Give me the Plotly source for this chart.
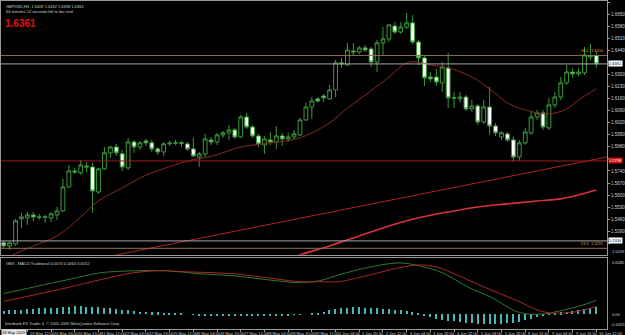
import plotly.graph_objects as go

# ---------------- data ----------------
bar_index = list(range(101))

opens = [
    1.5323, 1.5305, 1.5317, 1.5462, 1.5468, 1.5485, 1.5473, 1.5471, 1.5468, 1.5485,
    1.5508, 1.5647, 1.5740, 1.5729, 1.5769, 1.5763, 1.5618, 1.5752, 1.5845, 1.5879,
    1.5839, 1.5758, 1.5908, 1.5879, 1.5914, 1.5903, 1.5868, 1.5850, 1.5897, 1.5901,
    1.5903, 1.5897, 1.5868, 1.5821, 1.5839, 1.5920, 1.5908, 1.5949, 1.5961, 1.5978,
    1.5937, 1.6053, 1.5995, 1.5943, 1.5891, 1.5920, 1.5908, 1.5943, 1.5926, 1.5937,
    1.5949, 1.6036, 1.6111, 1.6158, 1.6175, 1.6158, 1.6210, 1.6367, 1.6355, 1.6436,
    1.6430, 1.6454, 1.6448, 1.6372, 1.6483, 1.6506, 1.6581, 1.6546, 1.6575, 1.6599,
    1.6488, 1.6396, 1.6285, 1.6285, 1.6251, 1.6338, 1.6164, 1.6158, 1.6169, 1.6100,
    1.6117, 1.6024, 1.6111, 1.6001, 1.5937, 1.5955, 1.5920, 1.5821, 1.5903, 1.5961,
    1.6053, 1.6077, 1.5990, 1.6123, 1.6169, 1.6251, 1.6314, 1.6303, 1.6309, 1.6401,
    1.6409,
]
highs = [
    1.5334, 1.5328, 1.5462, 1.5497, 1.5502, 1.5502, 1.5491, 1.5485, 1.5502, 1.5531,
    1.5694, 1.5775, 1.5758, 1.5804, 1.5792, 1.5787, 1.5758, 1.5879, 1.5885, 1.5897,
    1.5862, 1.5932, 1.5920, 1.5914, 1.5926, 1.5920, 1.5879, 1.5908, 1.5914, 1.5920,
    1.5914, 1.5908, 1.5932, 1.5850, 1.5955, 1.5937, 1.5961, 1.5972, 1.6007, 1.5990,
    1.6065, 1.6077, 1.6007, 1.5955, 1.5943, 1.5966, 1.6001, 1.5961, 1.5961, 1.5978,
    1.6048, 1.6135, 1.6169, 1.6169, 1.6187, 1.6239, 1.6384, 1.6396, 1.6483, 1.6483,
    1.6465, 1.6471, 1.6459, 1.6500, 1.6575, 1.6593, 1.6604, 1.6604, 1.6657, 1.6645,
    1.6500, 1.6407, 1.6314, 1.6332, 1.6372, 1.6425, 1.6198, 1.6198, 1.6181, 1.6152,
    1.6129, 1.6152, 1.6227, 1.6019, 1.5972, 1.5966, 1.5937, 1.5920, 1.5990, 1.6082,
    1.6094, 1.6094, 1.6164, 1.6198, 1.6285, 1.6355, 1.6338, 1.6338, 1.6459, 1.6477,
    1.6432,
]
lows = [
    1.5294, 1.5282, 1.5305, 1.5410, 1.5427, 1.5450, 1.5456, 1.5439, 1.5444, 1.5456,
    1.5502, 1.5641, 1.5723, 1.5717, 1.5734, 1.5497, 1.5607, 1.5746, 1.5816, 1.5827,
    1.5740, 1.5746, 1.5845, 1.5862, 1.5885, 1.5850, 1.5833, 1.5827, 1.5885, 1.5891,
    1.5879, 1.5856, 1.5821, 1.5763, 1.5821, 1.5891, 1.5891, 1.5932, 1.5920, 1.5926,
    1.5932, 1.5984, 1.5932, 1.5879, 1.5839, 1.5891, 1.5868, 1.5885, 1.5908, 1.5926,
    1.5943, 1.6030, 1.6042, 1.6135, 1.6140, 1.6152, 1.6169, 1.6338, 1.6349, 1.6407,
    1.6419, 1.6430, 1.6343, 1.6314, 1.6413, 1.6488, 1.6535, 1.6535, 1.6564, 1.6477,
    1.6355, 1.6233, 1.6256, 1.6233, 1.6198, 1.6106, 1.6106, 1.6135, 1.6088, 1.6082,
    1.6007, 1.6013, 1.5949, 1.5943, 1.5920, 1.5908, 1.5792, 1.5798, 1.5891, 1.5949,
    1.6036, 1.5978, 1.5978, 1.6106, 1.6152, 1.6239, 1.6280, 1.6291, 1.6297, 1.6384,
    1.6338,
]
closes = [
    1.5305, 1.5323, 1.5450, 1.5473, 1.5485, 1.5473, 1.5471, 1.5473, 1.5491, 1.5508,
    1.5647, 1.5740, 1.5734, 1.5775, 1.5763, 1.5624, 1.5752, 1.5845, 1.5879, 1.5845,
    1.5763, 1.5908, 1.5879, 1.5903, 1.5903, 1.5868, 1.5850, 1.5897, 1.5901, 1.5903,
    1.5900, 1.5868, 1.5827, 1.5839, 1.5926, 1.5908, 1.5949, 1.5961, 1.5978, 1.5937,
    1.6053, 1.5995, 1.5943, 1.5897, 1.5926, 1.5908, 1.5943, 1.5926, 1.5937, 1.5955,
    1.6036, 1.6111, 1.6146, 1.6146, 1.6164, 1.6210, 1.6367, 1.6361, 1.6442, 1.6430,
    1.6454, 1.6442, 1.6372, 1.6483, 1.6506, 1.6587, 1.6546, 1.6575, 1.6599, 1.6488,
    1.6396, 1.6280, 1.6274, 1.6256, 1.6343, 1.6164, 1.6162, 1.6169, 1.6100, 1.6117,
    1.6024, 1.6111, 1.6001, 1.5961, 1.5961, 1.5920, 1.5821, 1.5903, 1.5966, 1.6053,
    1.6077, 1.5995, 1.6123, 1.6169, 1.6251, 1.6314, 1.6303, 1.6314, 1.6413, 1.6409,
    1.6361,
]

# fast moving average (thin dark red), read at sample bars
ma_fast_idx = [0, 5, 9, 13, 16, 20, 24, 28, 32, 35, 40, 45, 50, 55, 58, 62, 65, 68,
               70, 72, 75, 79, 82, 85, 88, 92, 95, 97, 100]
ma_fast_val = [1.5230, 1.5305, 1.5362, 1.5473, 1.5566, 1.5642, 1.5715, 1.5765, 1.5806,
               1.5824, 1.5879, 1.5903, 1.5932, 1.6019, 1.6105, 1.6205, 1.6285, 1.6367,
               1.6372, 1.6355, 1.6338, 1.6285, 1.6216, 1.6135, 1.6094, 1.6071, 1.6100,
               1.6152, 1.6216]

# slow moving average (brighter red)
ma_slow_idx = [45, 50, 55, 60, 65, 70, 75, 80, 85, 90, 94, 97, 100]
ma_slow_val = [1.5189, 1.5253, 1.5305, 1.5363, 1.5421, 1.5468, 1.5502, 1.5531, 1.5549,
               1.5566, 1.5578, 1.5601, 1.5630]

# trend line end points
trend_idx = [16, 101.8]
trend_val = [1.5232, 1.5821]

# horizontal levels
level_fib_top = 1.6410
level_bid = 1.6361
level_red = 1.5798
level_gray_low = 1.5334
level_fib_low = 1.5291

# MACD pane
macd_idx = [0, 10.8, 16.3, 21.9, 27.6, 33.1, 38.7, 44.4, 49.9, 53.3, 56.6, 61.2, 66.7,
            70.1, 74, 78.5, 82.3, 86.9, 90.7, 93.6, 97, 100]
macd_val = [0.00323, 0.00539, 0.00647, 0.00678, 0.00678, 0.00631, 0.00601, 0.00539,
            0.00493, 0.00524, 0.00616, 0.00724, 0.00801, 0.00755, 0.00647, 0.00416,
            0.00262, 0.00031, 0.0, 0.00046, 0.00123, 0.00216]
signal_idx = [0, 10.8, 16.3, 21.9, 26.4, 31, 38.7, 44.4, 49.9, 53.3, 56.6, 61.2, 66.7,
              70.1, 73, 75.6, 81.3, 86.9, 90.7, 93.6, 97, 100]
signal_val = [0.00200, 0.00416, 0.00539, 0.00647, 0.00678, 0.00662, 0.00631, 0.00570,
              0.00508, 0.00508, 0.00508, 0.00601, 0.00724, 0.00770, 0.00739, 0.00647,
              0.00416, 0.00200, 0.00046, 0.00015, 0.00046, 0.00123]
hist_val = [
    5, 6, 7, 7, 8, 8, 9, 9, 10, 10,
    11, 12, 13, 13, 12, 12, 11, 10, 9, 8,
    7, 6, 5, 4, 4, 3, 3, 2, 2, 1,
    1, 0, -1, -2, -2, -3, -3, -3, -3, -3,
    -3, -3, -3, -3, -2, -2, -2, -2, -2, -1,
    -1, 0, 1, 2, 4, 6, 8, 9, 10, 11,
    11, 10, 9, 9, 8, 8, 7, 6, 5, 3,
    1, -3, -5, -7, -9, -10, -11, -12, -13, -14,
    -15, -15, -15, -15, -15, -14, -14, -12, -9, -7,
    -5, -3, -1, 1, 3, 4, 5, 6, 8, 9,
    11,
]  # in units of 0.0001

price_ticks = [1.6720, 1.6650, 1.6580, 1.6510, 1.6440, 1.6370, 1.6300, 1.6230, 1.6160,
               1.6090, 1.6020, 1.5950, 1.5880, 1.5810, 1.5740, 1.5670, 1.5600, 1.5530,
               1.5460, 1.5390, 1.5320]

time_tick_idx = [4, 8, 12, 16, 20, 24, 28, 32, 36, 40, 44, 48, 52, 56, 60, 64, 68, 72,
                 76, 80, 84, 88, 92, 96, 100]
time_tick_text = ["19 May 12:00", "20 May 04:00", "20 May 20:00", "21 May 12:00",
                  "22 May 04:00", "22 May 20:00", "25 May 12:00", "26 May 04:00",
                  "26 May 20:00", "27 May 12:00", "28 May 04:00", "28 May 20:00",
                  "29 May 12:00", "1 Jun 04:00", "1 Jun 20:00", "2 Jun 12:00",
                  "3 Jun 04:00", "3 Jun 20:00", "4 Jun 12:00", "5 Jun 04:00",
                  "5 Jun 20:00", "8 Jun 12:00", "9 Jun 04:00", "9 Jun 20:00",
                  "10 Jun 12:00"]

# ---------------- styling ----------------
FONT = "Liberation Sans"
GREEN = "#3a9a3a"
BORDER = "#9a9a9a"
TXT = "#d0d0d0"
TAN = "#8a7050"
X_RANGE = [-0.45, 101.8]
Y_RANGE = [1.5253, 1.6726]
M_RANGE = [-0.00231, 0.00878]
TAGGED = [level_bid, level_red, level_gray_low]

fig = go.Figure()

fig.add_trace(go.Candlestick(
    x=bar_index, open=opens, high=highs, low=lows, close=closes,
    increasing=dict(line=dict(color=GREEN, width=1), fillcolor="black"),
    decreasing=dict(line=dict(color=GREEN, width=1), fillcolor="white"),
    whiskerwidth=0, xaxis="x", yaxis="y", showlegend=False, hoverinfo="skip"))

fig.add_trace(go.Scatter(x=ma_fast_idx, y=ma_fast_val, mode="lines",
                         line=dict(color="#8a2a22", width=1, shape="spline"),
                         xaxis="x", yaxis="y", showlegend=False, hoverinfo="skip"))
fig.add_trace(go.Scatter(x=ma_slow_idx, y=ma_slow_val, mode="lines",
                         line=dict(color="#d8323f", width=1.6, shape="spline"),
                         xaxis="x", yaxis="y", showlegend=False, hoverinfo="skip"))
fig.add_trace(go.Scatter(x=trend_idx, y=trend_val, mode="lines",
                         line=dict(color="#b02222", width=1),
                         xaxis="x", yaxis="y", showlegend=False, hoverinfo="skip"))

# MACD
fig.add_trace(go.Bar(x=bar_index, y=[v * 0.0001 for v in hist_val], width=0.22,
                     marker=dict(color="#45b8b8", line=dict(width=0)),
                     xaxis="x2", yaxis="y2", showlegend=False, hoverinfo="skip"))
fig.add_trace(go.Scatter(x=macd_idx, y=macd_val, mode="lines",
                         line=dict(color="#2d7a2d", width=1, shape="spline"),
                         xaxis="x2", yaxis="y2", showlegend=False, hoverinfo="skip"))
fig.add_trace(go.Scatter(x=signal_idx, y=signal_val, mode="lines",
                         line=dict(color="#a82828", width=1, shape="spline"),
                         xaxis="x2", yaxis="y2", showlegend=False, hoverinfo="skip"))

shapes = []
for lvl, col in [(level_fib_top, TAN), (level_bid, "#a8a8a8"), (level_red, "#9c1c1c"),
                 (level_gray_low, "#a8a8a8"), (level_fib_low, TAN)]:
    shapes.append(dict(type="line", xref="x domain", yref="y", x0=0, x1=1,
                       y0=lvl, y1=lvl, line=dict(color=col, width=1)))

annotations = []
def ann(**kw):
    base = dict(showarrow=False, font=dict(family=FONT, size=4, color=TXT))
    base.update(kw)
    annotations.append(base)

ann(text="GBPUSD,H4  1.6409 1.6432 1.6338 1.6361", xref="paper", yref="paper",
    x=0.005, y=0.997, xanchor="left", yanchor="top")
ann(text="64 minutes 12 seconds left to bar end", xref="paper", yref="paper",
    x=0.005, y=0.982, xanchor="left", yanchor="top")
ann(text="<b>1.6361</b>", xref="paper", yref="paper", x=0.004, y=0.955,
    xanchor="left", yanchor="top", font=dict(family=FONT, size=10, color="#e01010"))
ann(text="38.2  1.6410", xref="x domain", yref="y", x=0.998, y=level_fib_top,
    xanchor="right", yanchor="bottom", font=dict(family=FONT, size=4, color="#c8a050"))
ann(text="23.6  1.5291", xref="x domain", yref="y", x=0.998, y=level_fib_low,
    xanchor="right", yanchor="bottom", font=dict(family=FONT, size=4, color="#c8a050"))

# price tags on the axis (they hide the tick label underneath)
for val, bg, fg in [(level_bid, "white", "black"), (level_red, "#d01010", "white"),
                    (level_gray_low, "white", "black")]:
    ann(text=f"{val:.4f}", xref="paper", yref="y", x=1.0, y=val, xanchor="left",
        yanchor="middle", bgcolor=bg, borderpad=0, xshift=1,
        font=dict(family=FONT, size=4, color=fg))
ann(text="1.5259", xref="paper", yref="y", x=1.0, y=Y_RANGE[0], xanchor="left",
    yanchor="bottom", xshift=3, yshift=-1)

# MACD texts
ann(text="GBX - MACD Traditional 0.0073 0.0064 0.0012", xref="paper", yref="y2",
    x=0.005, y=M_RANGE[1], xanchor="left", yanchor="top", yshift=-1)
ann(text="0.0085", xref="paper", yref="y2", x=1.0, y=M_RANGE[1], xanchor="left",
    yanchor="top", xshift=3)
ann(text="0.00", xref="paper", yref="y2", x=1.0, y=0, xanchor="left",
    yanchor="middle", xshift=3)
ann(text="-0.0023", xref="paper", yref="y2", x=1.0, y=M_RANGE[0], xanchor="left",
    yanchor="bottom", xshift=2)
ann(text="Interbank FX Trader 4, \u00a9 2001-2009 MetaQuotes Software Corp.",
    xref="paper", yref="y2", x=0.004, y=M_RANGE[0], xanchor="left", yanchor="bottom",
    yshift=1)

# time axis labels
ann(text="18 May 2009", xref="x2", yref="paper", x=X_RANGE[0], y=0, xanchor="left",
    yanchor="top", bgcolor="#e8e8e8", borderpad=0,
    font=dict(family=FONT, size=4, color="black"))
for i, t in zip(time_tick_idx, time_tick_text):
    ann(text=t, xref="x2", yref="paper", x=i, y=0, xanchor="left", yanchor="top",
        xshift=1)

axis_common = dict(showgrid=False, zeroline=False, showline=True, mirror=True,
                   linecolor=BORDER, linewidth=1)

tick_labels = ["" if any(abs(v - t) < 0.0020 for t in TAGGED) else f"{v:.4f}"
               for v in price_ticks]

fig.update_layout(
    width=625, height=335,
    margin=dict(l=0, r=16, t=1, b=6),
    paper_bgcolor="black", plot_bgcolor="black",
    font=dict(family=FONT, size=4, color=TXT),
    showlegend=False,
    boxgap=0.2, boxgroupgap=0.2,
    xaxis=dict(domain=[0, 1], range=X_RANGE, anchor="y", showticklabels=False,
               rangeslider=dict(visible=False), **axis_common),
    yaxis=dict(domain=[0.226, 1], range=Y_RANGE, side="right", anchor="x",
               tickvals=price_ticks, ticktext=tick_labels,
               ticks="outside", ticklen=2, tickcolor=BORDER,
               tickfont=dict(family=FONT, size=4.5, color=TXT), **axis_common),
    xaxis2=dict(domain=[0, 1], range=X_RANGE, anchor="y2", showticklabels=False,
                tickvals=time_tick_idx, ticks="outside", ticklen=2, tickcolor=BORDER,
                **axis_common),
    yaxis2=dict(domain=[0, 0.2165], range=M_RANGE, side="right", anchor="x2",
                showticklabels=False, **axis_common),
    bargap=0,
    shapes=shapes,
    annotations=annotations,
)

fig.write_html("out.html")
